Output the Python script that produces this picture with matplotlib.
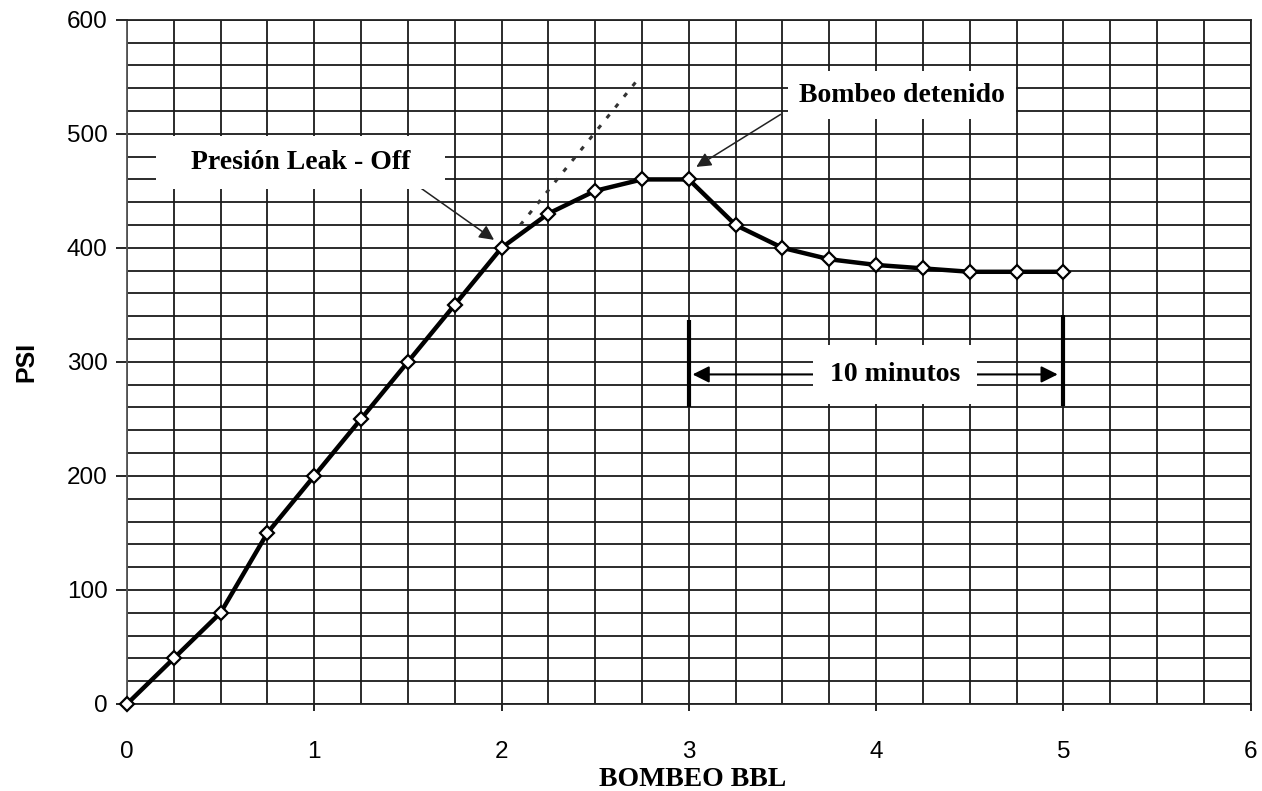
import numpy as np
import matplotlib.pyplot as plt

# bombeo (bbl) vs presion (psi)
bbl = [0, 0.25, 0.5, 0.75, 1, 1.25, 1.5, 1.75, 2, 2.25, 2.5, 2.75, 3,
       3.25, 3.5, 3.75, 4, 4.25, 4.5, 4.75, 5]
psi = [0, 40, 80, 150, 200, 250, 300, 350, 400, 430, 450, 460, 460,
       420, 400, 390, 385, 382, 379, 379, 379]

# extrapolacion de la recta (linea punteada)
ext_bbl = [2.1, 2.72]
ext_psi = [420, 546]

serif = 'Liberation Serif'
sans = 'Liberation Sans'

fig = plt.figure(figsize=(12.62, 7.91), dpi=100)
ax = fig.add_axes([0.1006, 0.110, 0.8904, 0.865])

ax.set_xlim(0, 6)
ax.set_ylim(0, 600)
ax.set_xticks(np.arange(0, 7, 1))
ax.set_yticks(np.arange(0, 700, 100))
ax.set_xticks(np.arange(0, 6.01, 0.25), minor=True)
ax.set_yticks(np.arange(0, 601, 20), minor=True)
ax.grid(which='both', color='#1a1a1a', linewidth=1.3)
ax.set_axisbelow(True)
ax.tick_params(axis='x', which='major', length=5, width=1.2, pad=22, labelsize=17.5)
ax.tick_params(axis='y', which='major', length=8, width=1.2, pad=6, labelsize=17.5)
ax.tick_params(which='minor', length=0)
for lab in ax.get_xticklabels() + ax.get_yticklabels():
    lab.set_fontfamily(sans)
for s in ax.spines.values():
    s.set_color('#222222')
    s.set_linewidth(1.3)
ax.spines['left'].set_color('#555555')

ax.plot(ext_bbl, ext_psi, linestyle=(0, (1.5, 3)), color='#333333', linewidth=2.2, zorder=3)
ax.plot(bbl, psi, color='black', linewidth=3.2, marker='D', markersize=7.5,
        markerfacecolor='white', markeredgecolor='black', markeredgewidth=1.6,
        zorder=4, clip_on=False)

# Presion Leak - Off
ax.text(0.925, 475, '   Presión Leak - Off   ', fontsize=20, fontweight='bold', family=serif,
        ha='center', va='center', zorder=6,
        bbox=dict(boxstyle='square,pad=0.5', facecolor='white', edgecolor='none'))
ax.annotate('', xy=(1.96, 407), xytext=(1.564, 453),
            arrowprops=dict(arrowstyle='-|>', color='#222222', lw=1.1,
                            mutation_scale=22, shrinkA=0, shrinkB=0), zorder=5)

# Bombeo detenido
ax.text(4.14, 534, 'Bombeo detenido', fontsize=20, fontweight='bold', family=serif,
        ha='center', va='center', zorder=6,
        bbox=dict(boxstyle='square,pad=0.4', facecolor='white', edgecolor='none'))
ax.annotate('', xy=(3.04, 471), xytext=(3.49, 517),
            arrowprops=dict(arrowstyle='-|>', color='#222222', lw=1.1,
                            mutation_scale=22, shrinkA=0, shrinkB=0), zorder=5)

# intervalo de 10 minutos
ax.vlines([3, 5], [260, 261], [337, 341], color='black', linewidth=3, zorder=5)
ax.annotate('', xy=(3.02, 289), xytext=(4.97, 289),
            arrowprops=dict(arrowstyle='<|-|>', color='black', lw=1.5,
                            mutation_scale=25, shrinkA=0, shrinkB=0), zorder=5)
ax.text(4.1, 289, '10 minutos', fontsize=20, fontweight='bold', family=serif,
        ha='center', va='center', zorder=6,
        bbox=dict(boxstyle='square,pad=0.6', facecolor='white', edgecolor='none'))

ax.set_ylabel('PSI', fontsize=18, fontweight='bold', family=sans, va='center')
ax.yaxis.set_label_coords(-0.0898, 0.5)
ax.set_xlabel('BOMBEO BBL', fontsize=20, fontweight='bold', family=serif, va='center')
ax.xaxis.set_label_coords(0.503, -0.11)

fig.savefig('out.png', dpi=100, facecolor='white')
